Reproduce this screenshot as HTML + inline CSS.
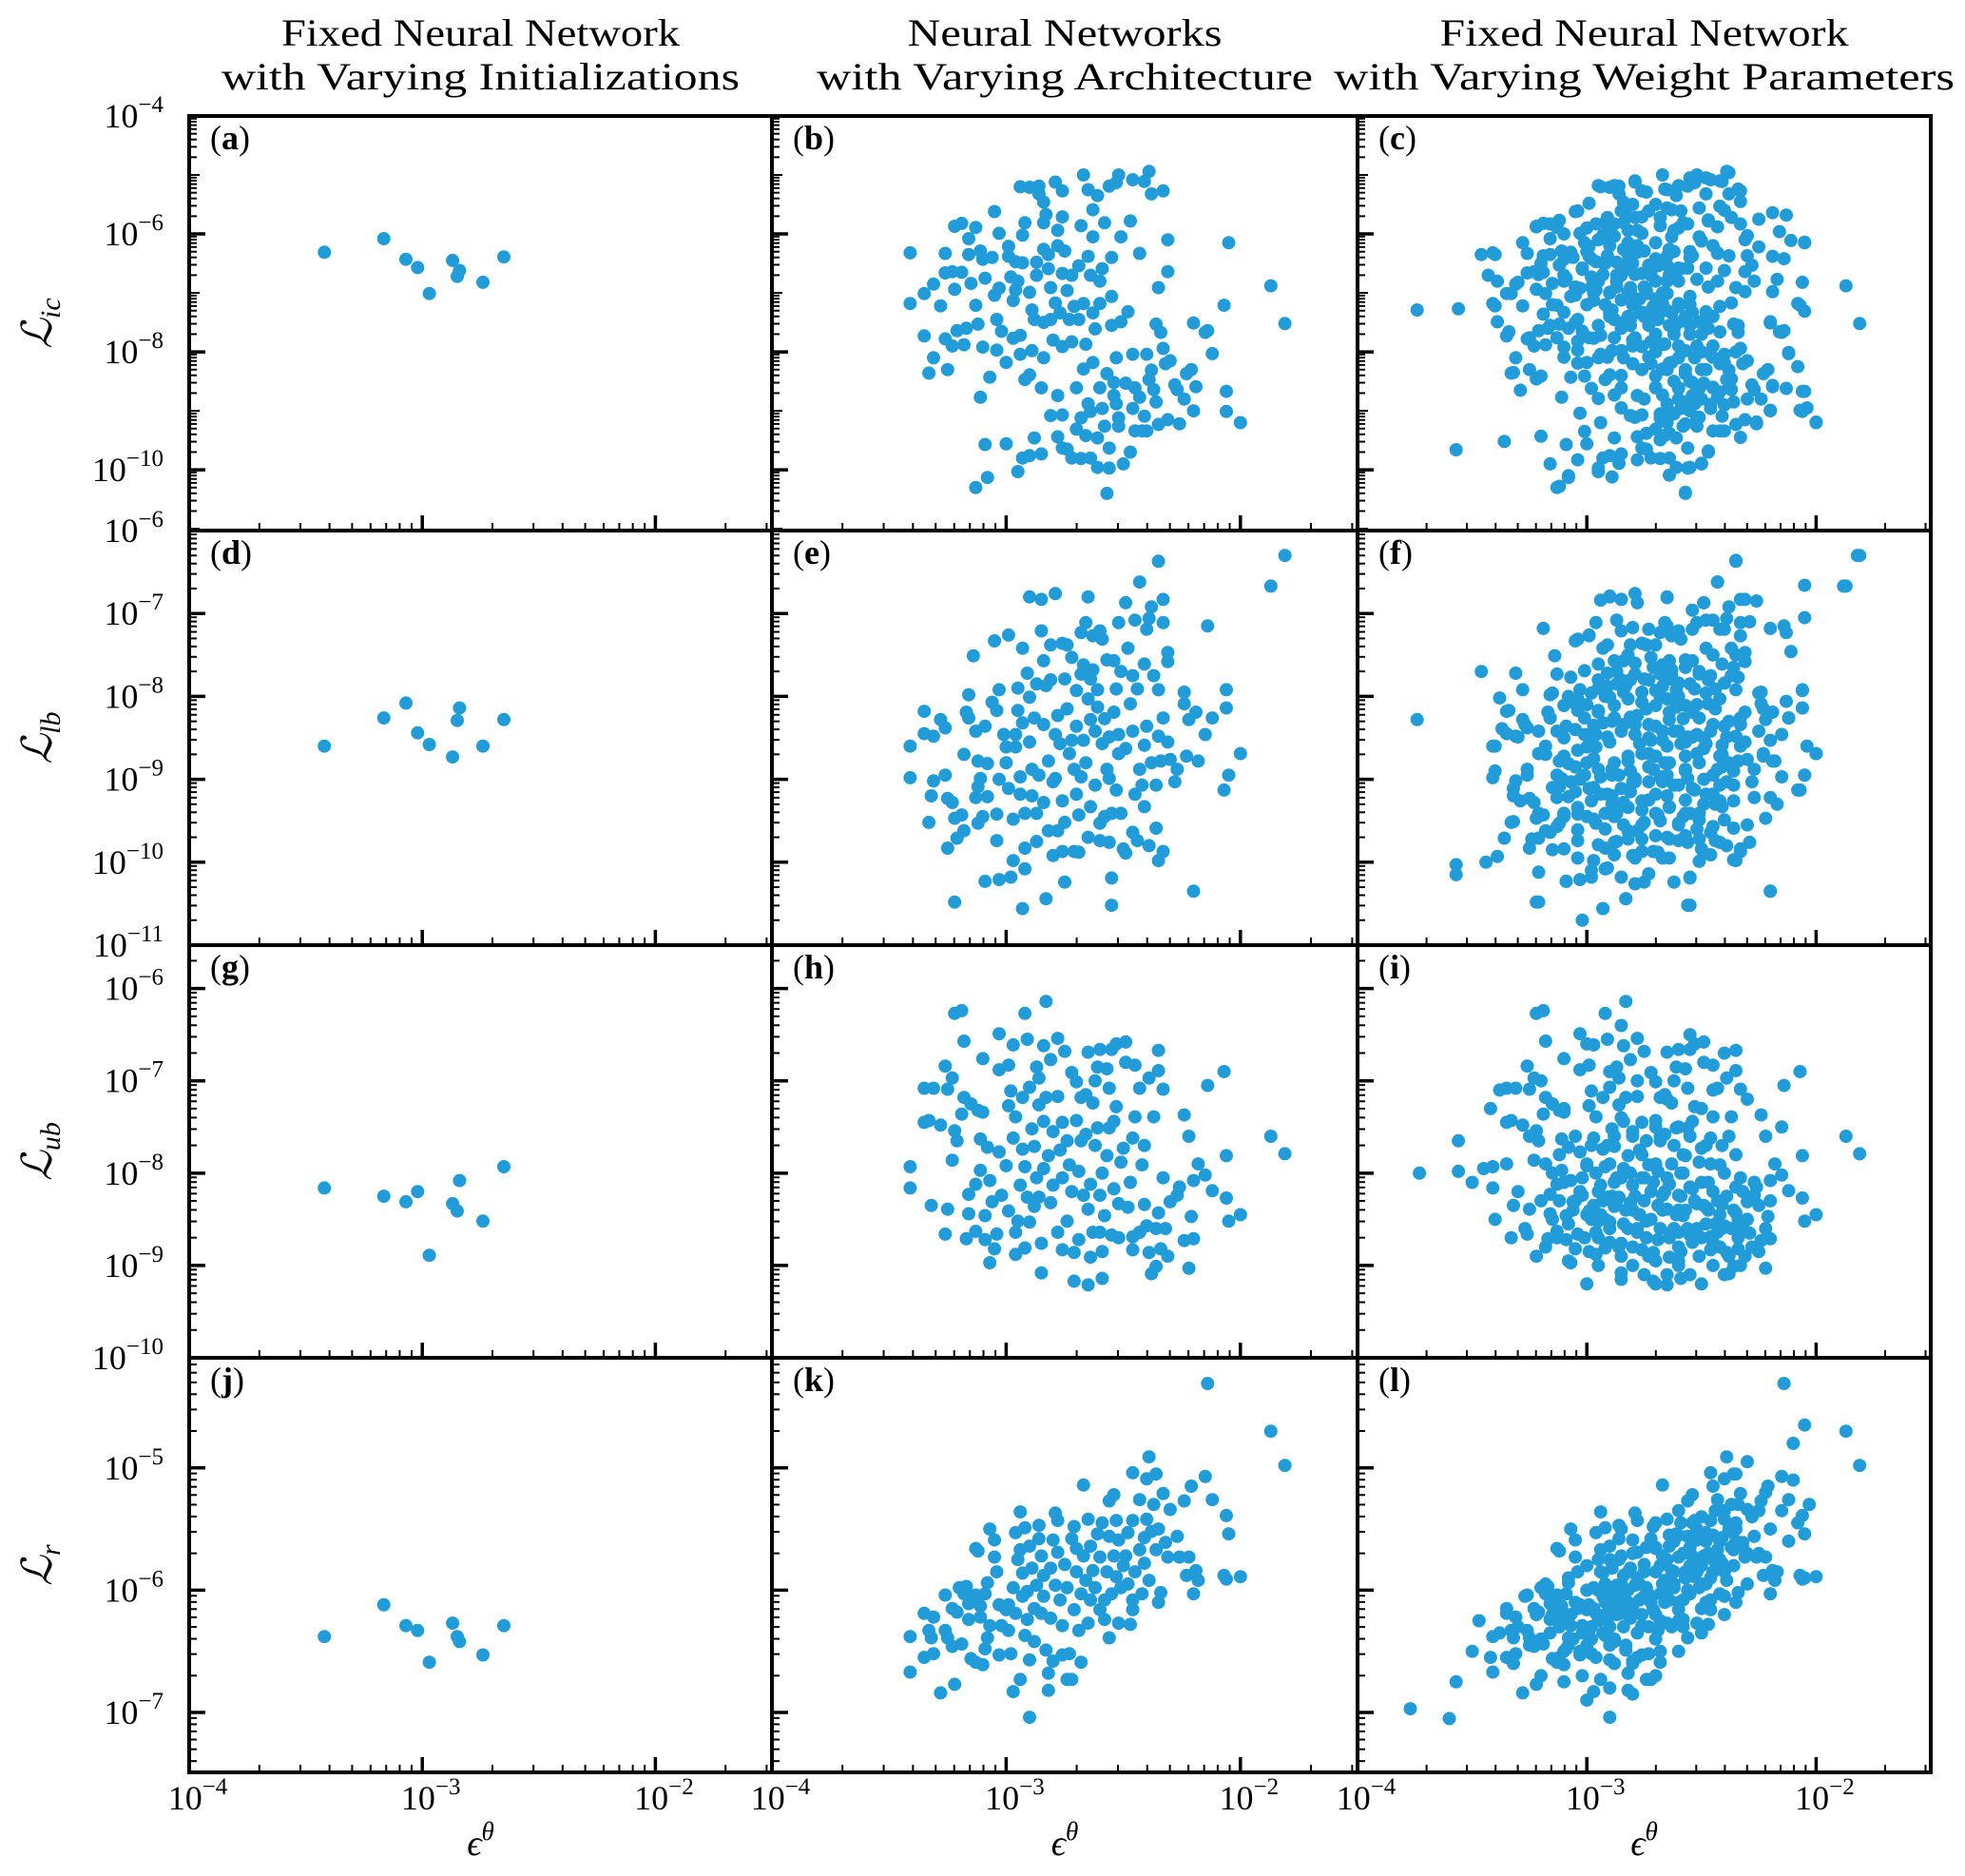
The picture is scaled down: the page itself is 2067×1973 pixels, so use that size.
<!DOCTYPE html>
<html><head><meta charset="utf-8"><style>
html,body{margin:0;padding:0;background:#fff;}
svg{display:block;}
text{font-family:"Liberation Serif","DejaVu Serif",serif;fill:#000;}
</style></head><body>
<svg id="fig" xmlns="http://www.w3.org/2000/svg" width="2067" height="1973" viewBox="0 0 2067 1973"></svg>
<script>
// All values are log10 values: [log10(epsilon_theta), log10(loss)]
const aX=[-3.42,-3.165,-3.07,-3.02,-2.97,-2.87,-2.84,-2.85,-2.74,-2.65];
const aIcY=[-6.31,-6.08,-6.43,-6.57,-7.01,-6.45,-6.62,-6.72,-6.82,-6.39];
const aLbY=[-8.60,-8.26,-8.08,-8.44,-8.58,-8.73,-8.14,-8.29,-8.60,-8.28];
const aUbY=[-8.16,-8.25,-8.31,-8.20,-8.89,-8.33,-8.08,-8.41,-8.52,-7.93];
const aRY=[-6.38,-6.12,-6.29,-6.33,-6.59,-6.27,-6.42,-6.38,-6.53,-6.29];

const bIc=[[-3.41,-6.32],[-3.41,-7.18],[-3.35,-7.01],[-3.35,-7.73],[-3.31,-6.85],[-3.31,-8.10],[-3.33,-8.36],[-3.28,-7.22],[-3.26,-7.78],[-3.25,-8.30],[-3.26,-6.33],[-3.26,-6.66],[-3.23,-6.64],[-3.22,-6.94],[-3.23,-7.90],[-3.21,-7.64],[-3.22,-5.87],[-3.19,-5.82],[-3.19,-6.65],[-3.18,-7.88],[-3.17,-7.60],[-3.16,-6.08],[-3.16,-6.35],[-3.15,-6.84],[-3.13,-5.89],[-3.13,-7.21],[-3.12,-7.53],[-3.11,-8.77],[-3.11,-6.29],[-3.10,-6.43],[-3.10,-7.92],[-3.09,-6.75],[-3.09,-9.57],[-3.08,-10.13],[-3.13,-10.30],[-3.07,-8.43],[-3.06,-6.40],[-3.05,-5.62],[-3.05,-7.04],[-3.04,-7.97],[-3.04,-7.45],[-3.03,-5.99],[-3.03,-6.92],[-3.02,-7.65],[-3.00,-8.18],[-3.00,-9.56],[-2.99,-6.21],[-2.99,-6.38],[-2.98,-6.73],[-2.97,-7.13],[-2.97,-7.77],[-2.96,-6.47],[-2.96,-6.95],[-2.95,-10.03],[-2.94,-5.20],[-2.95,-6.80],[-2.94,-7.72],[-2.94,-8.04],[-2.93,-9.80],[-2.93,-6.49],[-2.93,-6.02],[-2.92,-8.47],[-2.92,-5.81],[-2.90,-5.21],[-2.90,-9.76],[-2.90,-6.99],[-2.90,-8.39],[-2.89,-7.29],[-2.89,-7.98],[-2.88,-9.46],[-2.88,-7.45],[-2.87,-6.48],[-2.87,-6.70],[-2.86,-5.32],[-2.86,-5.19],[-2.85,-8.61],[-2.85,-9.73],[-2.84,-5.46],[-2.84,-6.26],[-2.84,-5.81],[-2.84,-7.50],[-2.84,-8.10],[-2.83,-5.67],[-2.82,-6.35],[-2.82,-6.59],[-2.81,-7.45],[-2.81,-6.91],[-2.80,-7.80],[-2.81,-9.08],[-2.79,-5.12],[-2.79,-7.17],[-2.78,-6.20],[-2.78,-5.94],[-2.78,-9.44],[-2.78,-8.74],[-2.77,-7.34],[-2.76,-5.27],[-2.76,-9.63],[-2.76,-5.71],[-2.76,-9.07],[-2.76,-6.67],[-2.76,-7.91],[-2.75,-6.29],[-2.74,-6.96],[-2.74,-9.65],[-2.73,-7.45],[-2.72,-6.70],[-2.72,-9.80],[-2.72,-7.83],[-2.71,-7.23],[-2.70,-8.61],[-2.70,-9.31],[-2.69,-7.45],[-2.69,-6.54],[-2.68,-9.12],[-2.68,-5.86],[-2.68,-9.81],[-2.67,-5.00],[-2.67,-7.18],[-2.67,-8.29],[-2.66,-7.87],[-2.66,-9.42],[-2.65,-8.88],[-2.65,-5.25],[-2.65,-6.38],[-2.64,-6.70],[-2.64,-9.80],[-2.64,-9.01],[-2.63,-6.05],[-2.63,-7.34],[-2.63,-5.59],[-2.63,-8.18],[-2.62,-7.61],[-2.61,-9.96],[-2.61,-9.46],[-2.61,-5.35],[-2.60,-6.80],[-2.60,-8.61],[-2.60,-7.18],[-2.59,-6.59],[-2.59,-8.96],[-2.58,-5.81],[-2.58,-9.26],[-2.57,-8.37],[-2.57,-10.40],[-2.56,-9.63],[-2.56,-5.19],[-2.56,-9.97],[-2.55,-7.06],[-2.55,-7.55],[-2.55,-6.40],[-2.54,-8.74],[-2.54,-8.52],[-2.53,-5.13],[-2.53,-8.10],[-2.53,-8.88],[-2.52,-5.00],[-2.52,-9.12],[-2.52,-9.26],[-2.51,-7.49],[-2.51,-6.05],[-2.50,-9.90],[-2.49,-8.53],[-2.48,-7.32],[-2.47,-5.78],[-2.47,-9.70],[-2.46,-5.08],[-2.46,-8.96],[-2.46,-8.04],[-2.45,-9.34],[-2.45,-8.61],[-2.43,-6.33],[-2.43,-8.77],[-2.42,-9.34],[-2.41,-9.09],[-2.41,-5.11],[-2.40,-8.04],[-2.40,-9.34],[-2.39,-8.47],[-2.39,-4.94],[-2.38,-5.32],[-2.38,-8.31],[-2.37,-8.64],[-2.36,-8.85],[-2.36,-7.53],[-2.35,-6.91],[-2.35,-9.23],[-2.34,-7.67],[-2.33,-7.94],[-2.33,-5.27],[-2.32,-8.20],[-2.31,-6.10],[-2.31,-6.64],[-2.31,-9.15],[-2.30,-8.15],[-2.28,-8.56],[-2.27,-8.64],[-2.26,-9.22],[-2.24,-8.80],[-2.23,-8.37],[-2.21,-8.30],[-2.20,-7.51],[-2.20,-9.00],[-2.19,-8.59],[-2.15,-7.67],[-2.14,-7.64],[-2.12,-8.03],[-2.07,-7.21],[-2.06,-9.01],[-2.06,-8.67],[-2.05,-6.15],[-2.00,-9.20],[-1.87,-6.88],[-1.81,-7.52]];

const bLb=[[-3.41,-8.60],[-3.41,-8.98],[-3.35,-8.18],[-3.35,-8.45],[-3.33,-9.52],[-3.32,-9.20],[-3.31,-9.02],[-3.31,-8.48],[-3.28,-8.28],[-3.26,-8.38],[-3.26,-8.95],[-3.25,-9.83],[-3.25,-9.23],[-3.23,-9.28],[-3.22,-10.48],[-3.22,-9.47],[-3.21,-9.71],[-3.19,-9.43],[-3.18,-9.62],[-3.18,-8.70],[-3.17,-8.19],[-3.16,-7.98],[-3.16,-8.26],[-3.14,-7.51],[-3.13,-8.42],[-3.13,-9.22],[-3.12,-9.09],[-3.12,-8.78],[-3.12,-9.53],[-3.11,-8.99],[-3.10,-9.45],[-3.09,-10.23],[-3.09,-8.36],[-3.08,-8.81],[-3.08,-9.21],[-3.06,-8.07],[-3.05,-7.33],[-3.04,-8.17],[-3.04,-9.42],[-3.04,-9.74],[-3.03,-7.92],[-3.03,-10.21],[-3.03,-9.00],[-3.01,-8.46],[-3.00,-8.61],[-3.00,-8.80],[-2.99,-7.26],[-2.99,-9.11],[-2.98,-10.18],[-2.97,-9.98],[-2.97,-9.48],[-2.96,-8.46],[-2.96,-8.61],[-2.95,-8.17],[-2.95,-7.90],[-2.94,-8.97],[-2.94,-9.18],[-2.93,-7.42],[-2.93,-10.56],[-2.93,-8.32],[-2.92,-10.08],[-2.92,-9.83],[-2.92,-9.41],[-2.91,-7.72],[-2.90,-8.01],[-2.90,-6.80],[-2.90,-8.55],[-2.89,-8.88],[-2.89,-9.20],[-2.88,-8.26],[-2.87,-7.85],[-2.87,-9.75],[-2.87,-9.41],[-2.86,-8.95],[-2.85,-6.83],[-2.85,-7.21],[-2.84,-7.57],[-2.84,-8.34],[-2.84,-9.28],[-2.83,-10.44],[-2.83,-7.87],[-2.82,-8.78],[-2.82,-9.62],[-2.81,-7.80],[-2.81,-7.38],[-2.80,-9.03],[-2.80,-9.92],[-2.79,-8.46],[-2.79,-6.76],[-2.79,-8.99],[-2.78,-8.23],[-2.78,-9.62],[-2.77,-8.57],[-2.76,-9.26],[-2.76,-7.36],[-2.76,-9.87],[-2.75,-10.24],[-2.75,-9.52],[-2.75,-7.79],[-2.74,-8.15],[-2.74,-7.38],[-2.73,-8.69],[-2.72,-8.53],[-2.72,-7.53],[-2.71,-8.88],[-2.71,-9.87],[-2.70,-7.93],[-2.70,-9.18],[-2.70,-8.36],[-2.69,-9.43],[-2.69,-9.88],[-2.68,-7.73],[-2.68,-7.23],[-2.68,-8.97],[-2.67,-7.62],[-2.67,-8.53],[-2.66,-8.80],[-2.66,-7.11],[-2.65,-9.70],[-2.65,-8.03],[-2.65,-6.80],[-2.64,-8.28],[-2.64,-9.33],[-2.64,-7.79],[-2.63,-7.27],[-2.63,-7.68],[-2.62,-9.07],[-2.62,-8.42],[-2.61,-7.92],[-2.61,-8.13],[-2.60,-9.74],[-2.60,-7.21],[-2.60,-9.53],[-2.59,-8.57],[-2.59,-7.31],[-2.58,-8.27],[-2.58,-9.45],[-2.57,-8.88],[-2.57,-7.56],[-2.56,-8.99],[-2.56,-8.49],[-2.56,-9.76],[-2.55,-10.19],[-2.55,-10.52],[-2.55,-9.41],[-2.54,-7.57],[-2.54,-8.19],[-2.53,-9.13],[-2.53,-7.91],[-2.52,-7.11],[-2.52,-8.69],[-2.52,-8.46],[-2.51,-9.41],[-2.51,-7.70],[-2.50,-9.84],[-2.49,-8.63],[-2.49,-9.89],[-2.49,-6.87],[-2.48,-7.42],[-2.47,-8.09],[-2.46,-7.75],[-2.46,-9.64],[-2.46,-8.42],[-2.45,-9.18],[-2.45,-7.08],[-2.44,-7.91],[-2.44,-9.74],[-2.43,-6.62],[-2.43,-8.88],[-2.42,-9.07],[-2.41,-8.59],[-2.41,-7.61],[-2.41,-9.33],[-2.40,-7.19],[-2.40,-8.36],[-2.39,-7.06],[-2.39,-9.80],[-2.38,-6.92],[-2.38,-8.80],[-2.37,-7.75],[-2.36,-9.07],[-2.36,-9.59],[-2.35,-8.48],[-2.35,-9.98],[-2.35,-6.37],[-2.35,-7.92],[-2.34,-8.78],[-2.33,-6.83],[-2.33,-7.11],[-2.33,-9.87],[-2.33,-8.26],[-2.31,-8.55],[-2.31,-7.47],[-2.31,-7.58],[-2.30,-8.76],[-2.28,-9.03],[-2.27,-8.88],[-2.24,-8.09],[-2.24,-7.95],[-2.23,-8.72],[-2.22,-8.28],[-2.20,-10.35],[-2.19,-8.19],[-2.18,-8.78],[-2.15,-8.46],[-2.14,-7.15],[-2.12,-8.26],[-2.07,-9.13],[-2.06,-7.92],[-2.06,-8.14],[-2.05,-8.95],[-2.00,-8.69],[-1.87,-6.67],[-1.81,-6.30]];

const bUb=[[-3.41,-7.93],[-3.41,-8.16],[-3.35,-7.08],[-3.31,-7.08],[-3.35,-7.45],[-3.33,-7.43],[-3.28,-7.48],[-3.32,-8.35],[-3.26,-8.66],[-3.25,-8.39],[-3.26,-6.84],[-3.23,-6.97],[-3.25,-7.09],[-3.22,-6.27],[-3.19,-6.24],[-3.18,-6.57],[-3.18,-7.18],[-3.22,-7.54],[-3.21,-7.65],[-3.23,-7.86],[-3.19,-7.36],[-3.17,-8.71],[-3.16,-8.23],[-3.16,-8.44],[-3.15,-7.25],[-3.13,-8.63],[-3.12,-7.32],[-3.11,-7.63],[-3.11,-7.97],[-3.13,-8.12],[-3.10,-7.34],[-3.10,-6.76],[-3.09,-8.46],[-3.09,-8.72],[-3.08,-7.72],[-3.07,-8.97],[-3.07,-8.08],[-3.06,-8.31],[-3.05,-8.82],[-3.04,-8.66],[-3.03,-6.49],[-3.03,-6.88],[-3.03,-7.77],[-3.02,-8.24],[-3.00,-7.92],[-2.99,-6.83],[-2.99,-8.41],[-2.99,-7.27],[-2.98,-7.11],[-2.97,-6.61],[-2.97,-7.62],[-2.96,-8.88],[-2.96,-8.64],[-2.96,-7.39],[-2.95,-8.52],[-2.94,-8.13],[-2.93,-7.74],[-2.93,-7.18],[-2.92,-8.81],[-2.92,-7.93],[-2.92,-6.27],[-2.91,-8.26],[-2.91,-6.55],[-2.90,-7.07],[-2.90,-8.53],[-2.89,-7.52],[-2.88,-8.36],[-2.88,-7.71],[-2.87,-8.05],[-2.87,-6.85],[-2.86,-7.26],[-2.86,-6.97],[-2.86,-8.26],[-2.85,-9.08],[-2.85,-8.76],[-2.84,-6.62],[-2.84,-7.44],[-2.84,-7.95],[-2.83,-6.14],[-2.83,-7.18],[-2.82,-7.81],[-2.81,-8.32],[-2.81,-6.77],[-2.80,-7.55],[-2.80,-8.13],[-2.78,-6.54],[-2.78,-7.17],[-2.78,-8.64],[-2.77,-7.75],[-2.76,-8.83],[-2.76,-7.45],[-2.76,-8.05],[-2.75,-6.68],[-2.74,-7.65],[-2.74,-8.52],[-2.73,-7.91],[-2.72,-6.91],[-2.72,-8.20],[-2.71,-9.17],[-2.71,-8.86],[-2.70,-7.43],[-2.70,-7.01],[-2.69,-8.72],[-2.69,-7.98],[-2.68,-7.18],[-2.68,-7.65],[-2.67,-8.24],[-2.66,-7.58],[-2.66,-7.15],[-2.65,-9.21],[-2.65,-8.39],[-2.65,-6.69],[-2.64,-8.91],[-2.64,-8.12],[-2.63,-8.64],[-2.63,-7.24],[-2.62,-7.00],[-2.62,-7.70],[-2.61,-7.51],[-2.61,-6.85],[-2.60,-6.66],[-2.60,-8.64],[-2.60,-8.24],[-2.59,-9.14],[-2.59,-8.85],[-2.59,-8.00],[-2.58,-8.46],[-2.57,-6.87],[-2.57,-7.81],[-2.56,-7.51],[-2.56,-7.08],[-2.55,-6.66],[-2.55,-8.67],[-2.54,-8.17],[-2.54,-7.44],[-2.53,-7.28],[-2.53,-6.60],[-2.52,-8.70],[-2.52,-8.33],[-2.51,-7.88],[-2.50,-7.73],[-2.49,-6.58],[-2.49,-6.80],[-2.48,-8.37],[-2.47,-8.10],[-2.46,-8.69],[-2.46,-7.62],[-2.46,-8.83],[-2.45,-7.39],[-2.45,-6.83],[-2.43,-8.64],[-2.43,-7.08],[-2.42,-7.91],[-2.41,-7.70],[-2.41,-8.34],[-2.40,-8.57],[-2.39,-6.97],[-2.39,-8.86],[-2.38,-9.09],[-2.37,-7.39],[-2.36,-8.60],[-2.36,-9.01],[-2.35,-6.67],[-2.35,-6.89],[-2.35,-8.43],[-2.34,-8.82],[-2.33,-8.05],[-2.33,-7.09],[-2.32,-8.60],[-2.31,-8.90],[-2.30,-8.31],[-2.27,-8.24],[-2.26,-8.15],[-2.24,-7.37],[-2.24,-8.73],[-2.22,-7.60],[-2.22,-9.03],[-2.21,-8.47],[-2.20,-8.71],[-2.20,-8.08],[-2.18,-7.90],[-2.15,-8.02],[-2.14,-7.05],[-2.12,-8.19],[-2.07,-6.90],[-2.06,-7.81],[-2.06,-8.27],[-2.05,-8.52],[-2.00,-8.45],[-1.87,-7.60],[-1.81,-7.79]];

const bR=[[-3.41,-6.38],[-3.41,-6.67],[-3.35,-6.19],[-3.35,-6.55],[-3.33,-6.33],[-3.32,-6.39],[-3.31,-6.22],[-3.31,-6.52],[-3.28,-6.84],[-3.26,-6.04],[-3.26,-6.33],[-3.25,-6.39],[-3.23,-6.46],[-3.23,-6.15],[-3.22,-6.77],[-3.21,-6.18],[-3.20,-5.98],[-3.19,-6.44],[-3.18,-6.03],[-3.17,-5.97],[-3.16,-6.11],[-3.16,-6.24],[-3.15,-6.56],[-3.13,-5.66],[-3.13,-6.59],[-3.13,-6.04],[-3.12,-5.68],[-3.11,-6.22],[-3.11,-6.13],[-3.10,-6.61],[-3.09,-6.48],[-3.09,-6.03],[-3.08,-5.94],[-3.08,-6.39],[-3.07,-5.50],[-3.07,-6.29],[-3.05,-5.59],[-3.05,-5.73],[-3.04,-5.85],[-3.03,-6.53],[-3.03,-6.12],[-3.02,-6.29],[-3.00,-6.16],[-2.99,-6.33],[-2.99,-6.12],[-2.98,-6.52],[-2.97,-5.98],[-2.97,-6.83],[-2.96,-5.53],[-2.96,-6.19],[-2.95,-5.75],[-2.94,-5.67],[-2.94,-5.36],[-2.94,-6.73],[-2.93,-5.86],[-2.93,-6.05],[-2.92,-6.37],[-2.92,-5.49],[-2.91,-6.24],[-2.91,-6.01],[-2.90,-5.64],[-2.90,-6.57],[-2.90,-7.04],[-2.89,-5.82],[-2.88,-6.15],[-2.88,-6.42],[-2.87,-5.96],[-2.86,-5.58],[-2.86,-5.47],[-2.85,-5.72],[-2.85,-6.19],[-2.84,-5.88],[-2.84,-6.05],[-2.83,-6.49],[-2.82,-6.82],[-2.82,-6.68],[-2.81,-5.82],[-2.81,-6.23],[-2.80,-5.59],[-2.80,-6.58],[-2.79,-5.96],[-2.79,-5.37],[-2.78,-5.43],[-2.78,-5.69],[-2.77,-6.08],[-2.76,-6.29],[-2.76,-6.53],[-2.75,-5.79],[-2.74,-6.73],[-2.74,-5.98],[-2.73,-6.52],[-2.72,-5.58],[-2.72,-6.73],[-2.71,-6.16],[-2.71,-5.48],[-2.70,-5.85],[-2.70,-5.66],[-2.69,-6.33],[-2.68,-6.03],[-2.68,-6.59],[-2.67,-5.14],[-2.67,-5.72],[-2.66,-5.92],[-2.65,-6.27],[-2.65,-5.42],[-2.64,-6.08],[-2.64,-5.64],[-2.63,-5.84],[-2.62,-5.98],[-2.61,-5.54],[-2.60,-6.16],[-2.60,-5.73],[-2.59,-5.45],[-2.58,-6.08],[-2.58,-6.24],[-2.57,-5.85],[-2.56,-5.56],[-2.56,-5.27],[-2.56,-6.39],[-2.55,-6.03],[-2.54,-5.72],[-2.54,-5.22],[-2.53,-5.89],[-2.53,-5.43],[-2.52,-6.27],[-2.52,-5.59],[-2.51,-5.98],[-2.50,-5.80],[-2.49,-5.72],[-2.48,-5.53],[-2.48,-5.95],[-2.47,-6.28],[-2.46,-5.04],[-2.46,-6.08],[-2.46,-5.43],[-2.46,-6.16],[-2.45,-5.85],[-2.43,-5.26],[-2.43,-5.67],[-2.42,-6.03],[-2.41,-5.57],[-2.41,-5.78],[-2.40,-5.09],[-2.40,-5.42],[-2.39,-5.92],[-2.39,-4.91],[-2.38,-5.52],[-2.37,-5.30],[-2.36,-5.67],[-2.36,-5.05],[-2.35,-6.10],[-2.35,-5.50],[-2.34,-6.02],[-2.33,-5.21],[-2.32,-5.61],[-2.31,-5.73],[-2.30,-5.34],[-2.27,-5.56],[-2.26,-5.73],[-2.24,-5.27],[-2.23,-5.88],[-2.22,-5.73],[-2.21,-5.15],[-2.20,-6.03],[-2.19,-5.84],[-2.18,-5.92],[-2.15,-5.07],[-2.14,-4.31],[-2.12,-5.26],[-2.07,-5.88],[-2.06,-5.91],[-2.06,-5.39],[-2.05,-5.54],[-2.00,-5.89],[-1.87,-4.70],[-1.81,-4.98]];

const cIcExtra=[[-3.74,-7.29],[-3.56,-7.27],[-3.57,-9.66],[-3.36,-9.52],[-3.20,-9.43],[-3.46,-6.35],[-3.43,-6.70],[-3.40,-6.35],[-3.39,-6.80],[-3.40,-7.22],[-3.39,-7.49],[-3.34,-7.66],[-3.33,-7.01],[-3.32,-8.35],[-3.29,-8.65],[-3.30,-6.82],[-3.28,-6.15],[-3.25,-7.76],[-3.22,-8.46],[-3.20,-8.41],[-3.19,-7.36],[-3.16,-9.90],[-3.12,-10.28],[-3.08,-10.10],[-3.04,-9.83],[-3.03,-9.04],[-3.01,-9.35],[-2.94,-9.20],[-2.95,-9.97],[-2.89,-10.12],[-2.86,-9.89],[-2.78,-9.83],[-2.64,-10.09],[-2.57,-10.38],[-2.55,-9.96],[-2.50,-9.89],[-2.47,-9.68],[-2.33,-9.45],[-2.26,-9.19],[-2.20,-8.99],[-2.19,-8.57],[-2.13,-8.62],[-2.07,-8.99],[-2.04,-8.95],[-2.00,-9.19],[-2.05,-8.67],[-2.08,-8.25],[-2.12,-8.01],[-2.16,-7.66],[-2.20,-7.49],[-2.05,-7.31],[-2.08,-7.18],[-2.06,-6.82],[-2.19,-6.98],[-2.17,-6.77],[-2.14,-6.42],[-2.19,-6.38],[-2.25,-6.22],[-2.11,-6.11],[-2.05,-6.14],[-2.16,-5.96],[-2.19,-5.64],[-2.13,-5.68],[-2.25,-5.75],[-2.30,-6.03],[-2.30,-6.37],[-2.28,-6.53],[-2.27,-6.80],[-2.31,-6.98],[-2.38,-6.37],[-2.40,-6.62],[-2.43,-6.32],[-2.43,-5.88],[-2.47,-5.76],[-2.42,-5.53],[-2.37,-5.72],[-2.33,-5.83],[-2.33,-5.45],[-2.34,-5.24],[-2.38,-4.96],[-2.42,-5.10],[-2.48,-5.32],[-2.51,-5.56],[-2.50,-6.12],[-2.48,-6.58],[-2.54,-6.37],[-2.56,-6.58],[-2.52,-6.77],[-2.47,-6.90],[-2.43,-6.80],[-2.42,-7.23],[-2.37,-7.17],[-2.34,-7.55],[-2.42,-7.66],[-2.48,-7.44],[-2.54,-7.33],[-2.60,-7.23],[-2.65,-7.01],[-2.70,-6.80],[-2.73,-6.53],[-2.78,-6.31],[-2.82,-6.15],[-2.88,-6.04],[-2.95,-6.10],[-3.01,-6.15],[-3.07,-6.31],[-3.12,-6.53],[-3.10,-6.80],[-3.07,-7.06],[-3.10,-7.33],[-3.08,-7.60],[-3.04,-7.82],[-2.99,-7.76],[-2.95,-7.55],[-2.90,-7.33],[-2.85,-7.12],[-2.81,-6.96],[-2.87,-6.80],[-2.93,-6.69],[-2.98,-6.90],[-3.02,-6.58],[-2.98,-6.42],[-2.91,-6.37],[-2.85,-6.53],[-2.79,-6.69],[-2.74,-7.01],[-2.76,-7.33],[-2.81,-7.55],[-2.88,-7.76],[-2.91,-8.09],[-2.85,-7.98],[-2.79,-7.76],[-2.73,-7.55],[-2.68,-7.33],[-2.64,-7.55],[-2.67,-7.87],[-2.73,-8.09],[-2.76,-8.30],[-2.70,-8.41],[-2.64,-8.19],[-2.57,-7.98],[-2.57,-8.30],[-2.60,-8.62],[-2.67,-8.73],[-2.68,-9.05],[-2.62,-9.05],[-2.56,-8.84],[-2.51,-8.62],[-2.48,-8.30],[-2.45,-8.09],[-2.40,-8.19],[-2.37,-8.46],[-2.42,-8.68],[-2.46,-8.89],[-2.51,-9.11],[-2.57,-9.22],[-2.64,-9.38],[-2.68,-9.49],[-2.74,-9.38],[-2.79,-9.11],[-2.85,-8.95],[-2.88,-8.73],[-2.95,-8.79],[-2.98,-8.62],[-3.01,-8.41],[-3.04,-8.19],[-3.10,-8.09],[-3.13,-7.76],[-3.16,-7.55],[-3.18,-7.01],[-3.21,-6.69],[-3.19,-6.37],[-3.22,-5.88],[-3.16,-5.83],[-3.12,-5.77],[-3.04,-5.61],[-2.99,-5.48],[-2.95,-5.18],[-2.88,-5.18],[-2.79,-5.10],[-2.74,-5.29],[-2.66,-5.24],[-2.60,-5.18],[-2.55,-5.05],[-2.52,-5.02],[-2.48,-5.05],[-2.65,-5.56],[-2.59,-5.61],[-2.56,-5.83],[-2.62,-5.94],[-2.68,-5.72],[-2.73,-5.61],[-2.79,-5.72],[-2.85,-5.61],[-2.91,-5.72],[-2.96,-5.83],[-2.88,-5.83],[-2.82,-5.94],[-2.76,-5.99],[-2.70,-6.15],[-2.64,-6.26],[-2.60,-6.58],[-2.65,-6.53],[-2.70,-6.42]];
const cIcExtra2=[[-3.05,-6.9],[-3.0,-7.2],[-2.95,-6.8],[-2.9,-7.0],[-2.85,-6.7],[-2.8,-7.2],[-2.75,-6.9],[-2.7,-7.1],[-2.65,-6.8],[-2.6,-7.5],[-2.55,-7.2],[-2.5,-7.7],[-2.45,-7.4],[-2.9,-7.4],[-2.8,-7.9],[-2.7,-7.7],[-2.6,-7.9],[-2.5,-8.0],[-2.45,-8.6],[-2.55,-8.5],[-2.65,-8.3],[-2.7,-8.6],[-2.6,-8.8],[-2.5,-8.8],[-2.4,-8.9],[-2.55,-9.0],[-2.65,-9.2],[-2.75,-8.8],[-2.85,-8.4],[-2.95,-8.1],[-3.05,-7.5],[-3.15,-7.2],[-3.2,-6.5],[-3.1,-6.0],[-3.0,-5.9],[-2.9,-5.9],[-2.8,-5.5],[-2.7,-5.5],[-2.6,-5.9],[-2.55,-6.3],[-2.45,-6.2],[-2.4,-5.6],[-3.0,-6.3],[-2.9,-6.2],[-2.8,-6.5],[-2.7,-6.5],[-2.6,-6.6],[-3.1,-6.7],[-2.75,-7.4],[-2.85,-7.6],[-2.65,-7.3],[-2.55,-7.7],[-2.45,-7.9],[-2.35,-8.0],[-2.38,-8.6],[-2.3,-8.8],[-2.6,-8.1],[-2.5,-8.3],[-2.7,-8.0],[-2.8,-8.2],[-2.97,-7.0],[-2.87,-6.9],[-2.77,-7.1],[-2.67,-7.0],[-2.57,-7.4],[-2.47,-7.6],[-2.92,-7.2],[-2.82,-7.4],[-2.72,-7.3],[-2.62,-7.7],[-2.52,-7.9],[-2.42,-8.2],[-2.52,-8.6],[-2.62,-8.5],[-2.72,-8.2],[-2.82,-7.0],[-3.02,-6.6],[-2.92,-6.5],[-2.72,-6.7],[-2.62,-6.3]];

const cLbExtra=[[-3.74,-8.28],[-3.57,-10.03],[-3.57,-10.15],[-3.44,-10.00],[-3.39,-9.93],[-3.46,-7.70],[-3.31,-7.72],[-3.38,-8.02],[-3.34,-8.17],[-3.37,-8.39],[-3.40,-8.60],[-3.40,-8.90],[-3.36,-9.71],[-3.32,-9.51],[-3.28,-7.92],[-3.19,-7.18],[-3.21,-10.48],[-3.21,-10.12],[-3.15,-9.85],[-3.09,-10.23],[-3.02,-10.70],[-2.93,-10.56],[-2.83,-10.44],[-2.56,-10.52],[-2.20,-10.35],[-2.43,-6.62],[-2.35,-6.36],[-2.05,-6.66],[-2.05,-7.05],[-1.88,-6.67],[-1.82,-6.30],[-2.06,-7.93],[-2.06,-8.14],[-2.04,-8.60],[-2.00,-8.69],[-2.05,-8.95],[-2.08,-9.13],[-2.12,-8.26],[-2.13,-8.06],[-2.11,-7.46],[-2.13,-7.23],[-2.20,-7.18],[-2.26,-6.85],[-2.31,-6.83],[-2.29,-7.10],[-2.33,-7.27],[-2.37,-7.42],[-2.42,-7.19],[-2.48,-7.08],[-2.49,-6.87],[-2.54,-6.96],[-2.54,-7.19],[-2.60,-7.27],[-2.65,-7.15],[-2.65,-6.81],[-2.78,-6.87],[-2.85,-6.83],[-2.94,-6.84],[-2.90,-6.79],[-2.96,-7.11],[-3.04,-7.31],[-2.99,-7.27],[-2.91,-7.38],[-2.87,-7.08],[-2.80,-7.17],[-2.73,-7.19],[-2.70,-7.38],[-2.76,-7.36],[-2.82,-7.50],[-2.88,-7.57],[-2.95,-7.61],[-3.01,-7.69],[-3.07,-7.77],[-3.13,-7.73],[-3.15,-7.96],[-3.10,-8.11],[-3.16,-8.26],[-3.21,-8.42],[-3.27,-8.34],[-3.30,-8.49],[-3.21,-8.69],[-3.26,-8.88],[-3.32,-9.11],[-3.29,-9.26],[-3.21,-9.41],[-3.24,-9.72],[-3.16,-9.64],[-3.10,-9.84],[-3.04,-9.95],[-2.98,-10.10],[-2.91,-10.07],[-2.85,-10.18],[-2.79,-10.26],[-2.73,-10.14],[-2.67,-9.95],[-2.62,-10.24],[-2.55,-10.18],[-2.51,-9.99],[-2.46,-9.91],[-2.42,-9.76],[-2.36,-9.97],[-2.33,-9.84],[-2.29,-9.76],[-2.30,-9.55],[-2.27,-9.22],[-2.22,-9.47],[-2.20,-9.22],[-2.17,-9.30],[-2.15,-8.97],[-2.19,-8.78],[-2.23,-8.69],[-2.20,-8.53],[-2.25,-8.42],[-2.23,-8.15],[-2.25,-7.96],[-2.31,-8.19],[-2.33,-8.34],[-2.34,-7.77],[-2.36,-7.65],[-2.40,-7.84],[-2.42,-8.03],[-2.48,-7.96],[-2.51,-7.73],[-2.57,-7.65],[-2.64,-7.57],[-2.60,-7.84],[-2.67,-7.88],[-2.73,-7.80],[-2.79,-7.73],[-2.85,-7.80],[-2.91,-7.88],[-2.98,-7.96],[-3.04,-8.03],[-3.01,-8.26],[-2.95,-8.19],[-2.88,-8.11],[-2.82,-8.03],[-2.76,-8.07],[-2.70,-8.11],[-2.64,-8.19],[-2.57,-8.11],[-2.51,-8.26],[-2.45,-8.34],[-2.39,-8.49],[-2.42,-8.72],[-2.48,-8.57],[-2.54,-8.49],[-2.60,-8.42],[-2.67,-8.42],[-2.73,-8.34],[-2.79,-8.34],[-2.85,-8.42],[-2.91,-8.49],[-2.98,-8.57],[-3.04,-8.65],[-3.10,-8.72],[-3.13,-8.95],[-3.07,-9.03],[-3.01,-8.95],[-2.95,-8.88],[-2.88,-8.80],[-2.82,-8.72],[-2.76,-8.69],[-2.70,-8.72],[-2.64,-8.80],[-2.57,-8.72],[-2.51,-8.80],[-2.45,-8.95],[-2.39,-9.03],[-2.36,-9.26],[-2.42,-9.26],[-2.48,-9.18],[-2.54,-9.11],[-2.60,-9.07],[-2.67,-9.03],[-2.73,-9.03],[-2.79,-9.03],[-2.85,-9.11],[-2.91,-9.18],[-2.98,-9.26],[-3.04,-9.34],[-3.10,-9.41],[-3.13,-9.57],[-3.04,-9.61],[-2.96,-9.53],[-2.88,-9.45],[-2.82,-9.34],[-2.76,-9.37],[-2.70,-9.41],[-2.64,-9.34],[-2.57,-9.41],[-2.51,-9.49],[-2.45,-9.57],[-2.40,-9.49],[-2.57,-9.68],[-2.64,-9.72],[-2.70,-9.68],[-2.76,-9.72],[-2.82,-9.72],[-2.88,-9.76],[-2.95,-9.79],[-2.88,-9.91],[-2.79,-9.95],[-2.64,-9.95],[-2.51,-9.72]];
const cLbExtra2=[[-3.05,-8.4],[-2.97,-8.35],[-2.89,-8.3],[-2.81,-8.25],[-2.73,-8.5],[-2.65,-8.6],[-2.57,-8.55],[-2.49,-8.5],[-2.41,-8.7],[-3.05,-8.85],[-2.97,-8.75],[-2.89,-8.95],[-2.81,-8.9],[-2.73,-8.85],[-2.65,-8.95],[-2.57,-8.9],[-2.49,-9.0],[-2.41,-8.85],[-3.05,-9.15],[-2.97,-9.1],[-2.89,-9.3],[-2.81,-9.15],[-2.73,-9.25],[-2.65,-9.2],[-2.57,-9.25],[-2.49,-9.3],[-3.0,-9.45],[-2.92,-9.6],[-2.84,-9.55],[-2.76,-9.55],[-2.68,-9.5],[-2.6,-9.55],[-2.52,-9.6],[-3.0,-8.1],[-2.92,-8.0],[-2.84,-7.95],[-2.76,-7.95],[-2.68,-8.0],[-2.6,-8.0],[-2.52,-8.1],[-2.44,-8.15],[-2.95,-7.8],[-2.87,-7.7],[-2.79,-7.6],[-2.71,-7.65],[-2.63,-7.75],[-2.55,-7.85],[-2.47,-7.8],[-3.1,-8.5],[-3.15,-9.1],[-3.18,-8.6],[-3.08,-8.0],[-2.38,-8.3],[-2.33,-8.6],[-2.36,-8.9],[-2.44,-9.3],[-2.35,-7.5],[-2.45,-7.5]];

const cUbExtra=[[-3.73,-8.0],[-3.56,-7.98],[-3.56,-7.65],[-3.50,-8.10],[-3.45,-7.95],[-3.42,-7.3],[-3.40,-8.5],[-3.38,-7.1],[-3.35,-7.9],[-3.33,-8.7],[-3.30,-8.2],[-3.27,-8.6],[-3.25,-7.6],[-3.22,-8.9],[-3.20,-8.3],[-3.18,-7.9],[-3.15,-8.5],[-3.13,-8.7],[-3.12,-7.8],[-3.10,-8.1],[-3.08,-8.95],[-3.06,-8.4],[-3.05,-7.6],[-3.03,-8.2],[-3.01,-8.7],[-3.00,-7.9],[-2.98,-8.5],[-2.96,-8.0],[-2.95,-9.0],[-2.93,-8.3],[-2.91,-7.7],[-2.90,-8.6],[-2.88,-8.1],[-2.86,-8.8],[-2.85,-7.4],[-2.83,-8.4],[-2.81,-8.0],[-2.80,-9.0],[-2.78,-8.6],[-2.76,-7.8],[-2.75,-8.3],[-2.73,-8.9],[-2.71,-8.1],[-2.70,-7.5],[-2.68,-8.6],[-2.66,-8.2],[-2.65,-9.1],[-2.63,-7.9],[-2.61,-8.45],[-2.60,-8.8],[-2.58,-8.0],[-2.56,-8.6],[-2.55,-7.6],[-2.53,-8.3],[-2.51,-8.9],[-2.50,-8.1],[-2.48,-8.55],[-2.46,-7.9],[-2.45,-8.75],[-2.43,-8.3],[-2.41,-8.6],[-2.40,-8.0],[-2.38,-8.9],[-2.36,-8.4],[-2.34,-8.7],[-2.32,-8.2],[-2.30,-8.5],[-2.28,-8.8],[-2.25,-8.35],[-2.22,-8.6],[-3.05,-8.3],[-2.97,-8.35],[-2.92,-8.5],[-2.87,-8.3],[-2.82,-8.6],[-2.77,-8.45],[-2.72,-8.5],[-2.67,-8.4],[-2.62,-8.6],[-2.57,-8.4],[-2.52,-8.6],[-2.47,-8.4],[-2.42,-8.45],[-2.37,-8.6],[-2.95,-8.7],[-2.85,-8.9],[-2.75,-9.1],[-2.60,-9.0],[-2.50,-9.2],[-2.40,-9.1],[-3.0,-9.2],[-2.9,-7.9],[-2.8,-7.6],[-2.7,-7.9],[-2.6,-7.5],[-2.5,-7.3],[-2.45,-7.1],[-2.35,-7.8],[-2.65,-7.2],[-2.78,-7.0],[-2.9,-6.9],[-3.1,-7.3],[-3.2,-7.0],[-3.0,-6.6],[-2.85,-6.4],[-2.55,-6.5],[-2.4,-6.7],[-2.3,-7.2],[-2.15,-7.5]];
const cUbExtra2=[[-3.08,-8.55],[-3.02,-8.05],[-2.99,-8.85],[-2.94,-8.45],[-2.89,-8.25],[-2.84,-8.55],[-2.79,-8.25],[-2.74,-8.7],[-2.69,-8.35],[-2.64,-8.7],[-2.59,-8.25],[-2.54,-8.75],[-2.49,-8.35],[-2.44,-8.55],[-2.39,-8.25],[-2.34,-8.5],[-2.29,-8.65],[-2.9,-8.75],[-2.8,-8.8],[-2.7,-8.95],[-2.6,-8.95],[-2.5,-8.7],[-2.42,-8.8],[-2.95,-8.2],[-2.85,-8.05],[-2.75,-8.05],[-2.65,-8.05],[-2.55,-8.15],[-2.45,-8.2],[-2.35,-8.15],[-2.85,-9.15],[-2.7,-9.2],[-2.55,-9.1],[-2.45,-9.0],[-2.33,-9.0],[-3.12,-8.3],[-3.15,-8.0],[-2.98,-7.7],[-2.88,-7.6],[-2.68,-7.6],[-2.58,-7.8],[-2.48,-7.7],[-2.38,-7.6],[-2.27,-8.1],[-2.25,-8.85],[-2.2,-8.3],[-3.18,-8.8],[-3.0,-8.45],[-2.6,-8.4],[-2.8,-8.4]];

const cRExtra=[[-3.77,-6.97],[-3.60,-7.05],[-3.57,-6.75],[-3.50,-6.5],[-3.47,-6.25],[-3.42,-6.55],[-3.38,-6.35],[-3.35,-6.15],[-3.32,-6.6],[-3.30,-6.3],[-3.27,-6.05],[-3.25,-6.45],[-3.22,-6.2],[-3.20,-6.7],[-3.18,-5.95],[-3.16,-6.35],[-3.14,-6.1],[-3.12,-6.55],[-3.10,-6.25],[-3.08,-5.9],[-3.06,-6.4],[-3.04,-6.15],[-3.02,-6.7],[-3.00,-6.0],[-2.98,-6.3],[-2.96,-6.55],[-2.94,-5.85],[-2.92,-6.2],[-2.90,-6.45],[-2.88,-6.05],[-2.86,-5.75],[-2.84,-6.3],[-2.82,-6.0],[-2.80,-6.6],[-2.78,-5.9],[-2.76,-6.2],[-2.74,-5.65],[-2.72,-6.05],[-2.70,-6.4],[-2.68,-5.8],[-2.66,-6.1],[-2.64,-5.55],[-2.62,-5.95],[-2.60,-6.25],[-2.58,-5.7],[-2.56,-6.0],[-2.54,-5.45],[-2.52,-5.85],[-2.50,-6.15],[-2.48,-5.6],[-2.46,-5.9],[-2.44,-5.35],[-2.42,-5.75],[-2.40,-6.05],[-2.38,-5.5],[-2.36,-5.8],[-2.34,-5.3],[-2.32,-5.65],[-2.30,-5.95],[-2.28,-5.4],[-2.25,-5.7],[-2.22,-5.2],[-2.20,-5.5],[-2.17,-5.85],[-2.15,-5.35],[-2.12,-5.6],[-2.10,-5.1],[-2.08,-5.45],[-2.05,-5.9],[-2.03,-5.3],[-3.2,-6.4],[-3.1,-6.5],[-3.0,-6.45],[-2.9,-6.3],[-2.8,-6.15],[-2.7,-6.2],[-2.6,-6.1],[-2.5,-5.95],[-2.4,-5.85],[-2.3,-5.7],[-3.15,-6.2],[-3.05,-6.1],[-2.95,-6.0],[-2.85,-5.95],[-2.75,-5.85],[-2.65,-5.75],[-2.55,-5.65],[-2.45,-5.55],[-2.35,-5.45],[-2.25,-5.35],[-3.0,-6.9],[-2.9,-6.8],[-2.8,-6.85],[-2.7,-6.7],[-2.6,-6.5],[-2.5,-6.35],[-2.4,-6.2],[-2.85,-5.5],[-2.7,-5.45],[-2.6,-5.35],[-2.45,-5.15],[-2.35,-5.05],[-2.3,-4.95],[-2.1,-4.8],[-2.05,-4.65]];
const cRExtra2=[[-3.12,-6.3],[-3.07,-6.2],[-3.02,-6.35],[-2.97,-6.15],[-2.92,-6.1],[-2.87,-6.2],[-2.82,-6.1],[-2.77,-5.95],[-2.72,-6.1],[-2.67,-5.95],[-2.62,-5.85],[-2.57,-5.9],[-2.52,-5.75],[-2.47,-5.7],[-2.42,-5.6],[-2.37,-5.65],[-3.08,-6.45],[-3.03,-6.5],[-2.98,-6.4],[-2.93,-6.35],[-2.88,-6.4],[-2.83,-6.45],[-2.78,-6.35],[-2.73,-6.3],[-2.68,-6.25],[-2.63,-6.3],[-3.0,-5.8],[-2.9,-5.75],[-2.8,-5.7],[-2.7,-5.65],[-2.6,-5.55],[-2.5,-5.4],[-2.4,-5.35],[-2.95,-6.25],[-2.85,-6.1],[-2.75,-6.05],[-2.65,-6.0],[-2.55,-5.8],[-2.45,-5.75],[-2.35,-5.6],[-2.88,-6.6],[-2.78,-6.55],[-2.68,-6.5],[-2.58,-6.3],[-2.48,-6.1],[-3.1,-6.75],[-2.92,-5.95],[-2.82,-5.85],[-2.62,-5.6],[-2.52,-5.5]];

const rowLabelExps=[[-4,-6,-8,-10],[-6,-7,-8,-9,-10,-11],[-6,-7,-8,-9,-10],[-5,-6,-7]];
const rowYLabels=["ic","lb","ub","r"];
const xTickExps=[-4,-3,-2];
const panelLetters=["a","b","c","d","e","f","g","h","i","j","k","l"];
const colTitles=[["Fixed Neural Network","with Varying Initializations"],["Neural Networks","with Varying Architecture"],["Fixed Neural Network","with Varying Weight Parameters"]];

// layout (not data)
const titleWidths=[[419,545],[331,522],[430,653]];
const NS="http://www.w3.org/2000/svg";
const svg=document.getElementById('fig');
const cols=[{x0:199,x1:812},{x0:812,x1:1428},{x0:1428,x1:2031}];
const rows=[{y0:122,y1:558,top:-4,bot:-11.03},{y0:558,y1:994,top:-6,bot:-11},{y0:994,y1:1428,top:-5.53,bot:-10},{y0:1428,y1:1864,top:-4.1,bot:-7.49}];
const XMIN=-4,XMAX=-1.5;
const COLOR="#229cd9";
function el(tag,attrs,parent){const e=document.createElementNS(NS,tag);for(const k in attrs)e.setAttribute(k,attrs[k]);(parent||svg).appendChild(e);return e;}
function xScale(c,v){return c.x0+(v-XMIN)/(XMAX-XMIN)*(c.x1-c.x0);}
function yScale(r,v){return r.y0+(r.top-v)/(r.top-r.bot)*(r.y1-r.y0);}

const panelData=[
 [aX.map((x,i)=>[x,aIcY[i]]),bIc,bIc.concat(cIcExtra,cIcExtra2)],
 [aX.map((x,i)=>[x,aLbY[i]]),bLb,bLb.concat(cLbExtra,cLbExtra2)],
 [aX.map((x,i)=>[x,aUbY[i]]),bUb,bUb.concat(cUbExtra,cUbExtra2)],
 [aX.map((x,i)=>[x,aRY[i]]),bR,bR.concat(cRExtra,cRExtra2)]
];

colTitles.forEach((t,ci)=>{
  const c=cols[ci];const cx=(c.x0+c.x1)/2;
  const g=el('g',{});
  
  
  const t1=el('text',{x:cx,y:48,'text-anchor':'middle','font-size':40,textLength:titleWidths[ci][0],lengthAdjust:'spacingAndGlyphs'},g);t1.textContent=t[0];
  const t2=el('text',{x:cx,y:94,'text-anchor':'middle','font-size':40,textLength:titleWidths[ci][1],lengthAdjust:'spacingAndGlyphs'},g);t2.textContent=t[1];
});

const defs=el('defs',{});
rows.forEach((r,ri)=>{
  cols.forEach((c,ci)=>{
    const g=el('g',{});
    
    
    const cid='clip'+ri+'_'+ci;
    const cp=el('clipPath',{id:cid},defs);
    el('rect',{x:c.x0,y:r.y0,width:c.x1-c.x0,height:r.y1-r.y0},cp);
    const pts=el('g',{'clip-path':'url(#'+cid+')',fill:COLOR},g);
    
    
    panelData[ri][ci].forEach(p=>{
      const d=el('circle',{cx:xScale(c,p[0]).toFixed(1),cy:yScale(r,p[1]).toFixed(1),r:7},pts);
      
      
    });
    for(let e=Math.floor(r.bot);e<=Math.floor(r.top);e++){
      for(let m=1;m<10;m++){
        const v=e+Math.log10(m);
        if(v>r.top||v<r.bot)continue;
        const y=yScale(r,v);
        const major=(m===1&&rowLabelExps[ri].includes(e));
        const len=major?17:(m===1?11:8);
        el('line',{x1:c.x0,x2:c.x0+len,y1:y,y2:y,stroke:'#000','stroke-width':major?3.5:2},g);
      }
    }
    for(let e=-4;e<=-2;e++){
      for(let m=1;m<10;m++){
        const v=e+Math.log10(m);if(v>XMAX)continue;
        const x=xScale(c,v);const major=(m===1);
        el('line',{x1:x,x2:x,y1:r.y1,y2:r.y1-(major?16:8),stroke:'#000','stroke-width':major?3.5:2},g);
      }
    }
    const fr=el('rect',{x:c.x0,y:r.y0,width:c.x1-c.x0,height:r.y1-r.y0,fill:'none',stroke:'#000','stroke-width':4},g);
    
    
    const pl=el('text',{x:c.x0+22,y:r.y0+35,'font-size':36},g);
    
    
    pl.appendChild(document.createTextNode('('));
    const b=el('tspan',{'font-weight':'bold'},pl);b.textContent=panelLetters[ri*3+ci];
    pl.appendChild(document.createTextNode(')'));
  });
  rowLabelExps[ri].forEach(e=>{
    const y=yScale(r,e);
    const t=el('text',{x:172,y:y+12,'text-anchor':'end','font-size':36});
    
    
    t.appendChild(document.createTextNode('10'));
    const s=el('tspan',{dy:-16,'font-size':25},t);s.textContent='\u2212'+(-e);
  });
  const cy=(r.y0+r.y1)/2;
  const yt=el('text',{x:0,y:0,'text-anchor':'middle','font-size':44,transform:'translate(54,'+cy+') rotate(-90)'});
  
  
  const L=el('tspan',{'font-family':'DejaVu Serif, serif','font-style':'italic'},yt);L.textContent='\u2112';
  const sub=el('tspan',{dy:9,'font-size':30,'font-style':'italic'},yt);sub.textContent=rowYLabels[ri];
});
cols.forEach((c,ci)=>{
  xTickExps.forEach(e=>{
    const x=xScale(c,e);
    const t=el('text',{x:x+9,y:1903,'text-anchor':'middle','font-size':36});
    
    
    t.appendChild(document.createTextNode('10'));
    const s=el('tspan',{dy:-16,'font-size':25},t);s.textContent='\u2212'+(-e);
  });
  const xt=el('text',{x:(c.x0+c.x1)/2,y:1951,'text-anchor':'middle','font-size':38});
  
  
  const ep=el('tspan',{'font-style':'italic'},xt);ep.textContent='\u03F5';
  const th=el('tspan',{dy:-16,'font-size':27,'font-style':'italic'},xt);th.textContent='\u03B8';
});
</script>
</body></html>
